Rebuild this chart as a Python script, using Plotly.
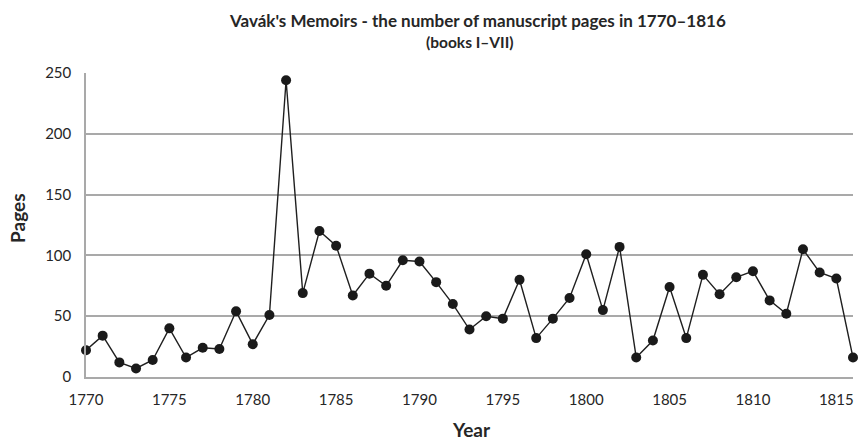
import plotly.graph_objects as go

years = list(range(1770, 1817))
pages = [22, 34, 12, 7, 14, 40, 16, 24, 23, 54,
         27, 51, 244, 69, 120, 108, 67, 85, 75, 96,
         95, 78, 60, 39, 50, 48, 80, 32, 48, 65,
         101, 55, 107, 16, 30, 74, 32, 84, 68, 82,
         87, 63, 52, 105, 86, 81, 16]

x_ticks = list(range(1770, 1816, 5))
y_ticks = [0, 50, 100, 150, 200, 250]

title_text = "Vavák's Memoirs - the number of manuscript pages in 1770–1816"
subtitle_text = "(books I–VII)"
x_title = "Year"
y_title = "Pages"

FONT = "Lato, 'Open Sans', sans-serif"
TEXT = "#262626"
GRID = "#a9a9a9"

fig = go.Figure(
    go.Scatter(
        x=years, y=pages, mode="lines+markers",
        line=dict(color="#1f1f1f", width=1.4),
        marker=dict(color="#1a1a1a", size=10),
        cliponaxis=False,
        hoverinfo="x+y",
    )
)

# headings and axis titles placed as paper-anchored annotations
notes = [
    dict(text=f"<b>{title_text}</b>", x=0.511, y=1.174, size=17, angle=0),
    dict(text=f"<b>{subtitle_text}</b>", x=0.501, y=1.102, size=15.5, angle=0),
    dict(text=f"<b>{x_title}</b>", x=0.503, y=-0.174, size=19, angle=0),
    dict(text=f"<b>{y_title}</b>", x=-0.09, y=0.523, size=19, angle=-90),
]
for n in notes:
    fig.add_annotation(
        text=n["text"], xref="paper", yref="paper", x=n["x"], y=n["y"],
        xanchor="center", yanchor="middle", showarrow=False,
        textangle=n["angle"], font=dict(family=FONT, size=n["size"], color=TEXT),
    )

fig.update_layout(
    width=859, height=440,
    margin=dict(l=86, r=6, t=73, b=63),
    paper_bgcolor="white", plot_bgcolor="white",
    showlegend=False,
    font=dict(family=FONT, color=TEXT, size=15),
    xaxis=dict(
        range=[1770, 1816], tickvals=x_ticks, ticktext=[str(v) for v in x_ticks],
        showgrid=False, zeroline=False, automargin=False,
        showline=True, linecolor=GRID, linewidth=1.5,
        ticks="", ticklen=0, ticklabelstandoff=8,
        tickfont=dict(size=15, color=TEXT),
    ),
    yaxis=dict(
        range=[0, 250], tickvals=y_ticks,
        showgrid=True, gridcolor=GRID, gridwidth=1.5,
        zeroline=False, automargin=False,
        showline=True, linecolor=GRID, linewidth=1.5,
        ticks="", ticklen=0, ticklabelstandoff=10,
        tickfont=dict(size=15, color=TEXT),
    ),
)

fig.write_html("out.html")
